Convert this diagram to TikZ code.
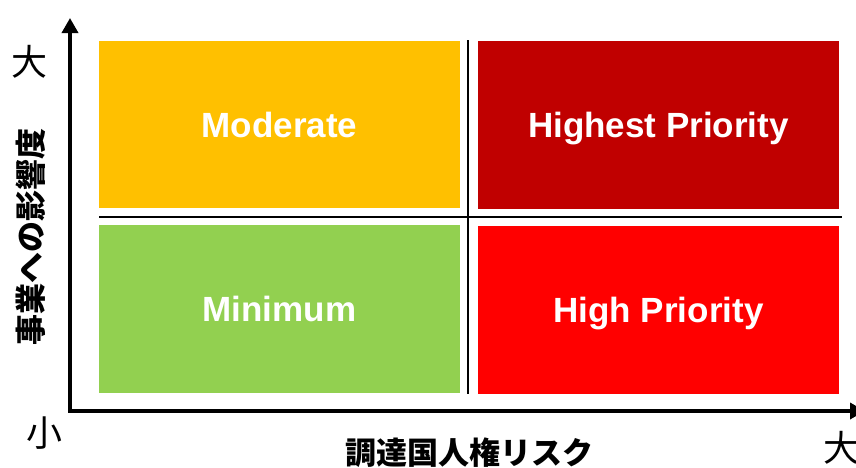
\documentclass[tikz,border=0pt]{standalone}
\usepackage{fontspec}
\setmainfont{Liberation Sans}
\newfontfamily\jpfont{Noto Sans CJK JP}
\usetikzlibrary{arrows.meta}
\definecolor{moderate}{HTML}{FFC000}
\definecolor{highest}{HTML}{C00000}
\definecolor{minimum}{HTML}{92D050}
\definecolor{highprio}{HTML}{FF0000}
\tikzset{
  cell/.style={rectangle, inner sep=0pt, minimum width=361pt, minimum height=167.5pt,
    text height=25pt, text depth=0pt,
    text=white, font=\fontsize{35}{35}\selectfont\bfseries},
  axis/.style={line width=3.5pt, -{Triangle[width=16pt,length=15pt]}},
  divider/.style={line width=2.8pt},
  tick/.style={font=\jpfont\fontsize{36}{36}\selectfont},
  axislabel/.style={font=\jpfont\bfseries\fontsize{31}{31}\selectfont}
}

\begin{document}
\begin{tikzpicture}[x=1pt, y=-1pt]
			%%%%% START %%%%%
			\useasboundingbox (0, 0) rectangle (856, 467);
			
			\node[cell, fill=moderate] (mod) at (279.5, 124.5) {Moderate};
			\node[cell, fill=highest] (hst) at (658.5, 125) {Highest Priority};
			\node[cell, fill=minimum] (min) at (279.5, 309) {Minimum};
			\node[cell, fill=highprio] (hgh) at (658.5, 310) {High Priority};
			
			\coordinate (vtop) at (468, 40);
			\coordinate (vbot) at (468, 394);
			\coordinate (hleft) at (99, 217);
			\coordinate (hright) at (842, 217);
			\draw[divider] (vtop) -- (vbot);
			\draw[divider] (hleft) -- (hright);
			
			\coordinate (origin) at (70, 411);
			\coordinate (ytip) at (70, 18);
			\coordinate (xtip) at (865, 411);
			\draw[axis, line cap=rect] (origin) -- (ytip);
			\draw[axis, line cap=rect] (origin) -- (xtip);
			
			\node[tick] (ybig) at (30, 62) {大};
			\node[tick] (small) at (44, 433) {小};
			\node[tick] (xbig) at (841, 448) {大};
			
			\node[axislabel, rotate=90] (ylabel) at (31, 237) {事業への影響度};
			\node[axislabel] (xlabel) at (469, 453) {調達国人権リスク};
			%%%%% END %%%%%
\end{tikzpicture}
\end{document}
